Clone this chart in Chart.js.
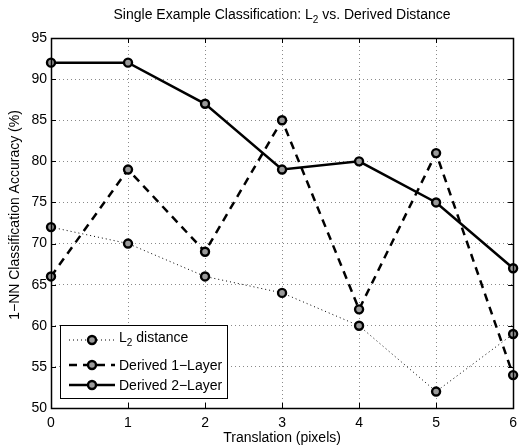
<!DOCTYPE html>
<html lang="en">
<head>
<meta charset="UTF-8">
<title>Single Example Classification</title>
<style>
    body { margin: 0; padding: 0; background: #fff; }
    #wrap { width: 524px; height: 446px; }
</style>
</head>
<body>
<div id="wrap"><canvas id="chart" width="524" height="446"></canvas></div>
<script src="https://cdn.jsdelivr.net/npm/chart.js"></script>
<script>
    var translations = [0, 1, 2, 3, 4, 5, 6];
    var l2Distance = [72, 70, 66, 64, 60, 52, 59];
    var derived1Layer = [66, 79, 69, 85, 62, 81, 54];
    var derived2Layer = [92, 92, 87, 79, 80, 75, 67];

    var FONT = 'Liberation Sans, Arial, Helvetica, sans-serif';

    function pts(ys) {
        return translations.map(function (x, i) { return { x: x, y: ys[i] }; });
    }

    function series(label, ys, dash, width) {
        return {
            label: label,
            data: pts(ys),
            borderColor: '#000',
            borderWidth: width,
            borderDash: dash,
            pointRadius: 4,
            pointBorderWidth: 2.4,
            pointBackgroundColor: '#9a9a9a',
            pointBorderColor: '#000',
            fill: false,
            tension: 0,
            clip: false
        };
    }

    // text with a subscript "2" after the leading part
    function subText(ctx, parts, x, y, size) {
        var big = size + 'px ' + FONT, small = Math.round(size * 0.68) + 'px ' + FONT;
        ctx.font = big; var w1 = ctx.measureText(parts[0]).width;
        ctx.font = small; var w2 = ctx.measureText(parts[1]).width;
        ctx.font = big; var w3 = ctx.measureText(parts[2]).width;
        ctx.font = big; ctx.fillText(parts[0], x, y);
        ctx.font = small; ctx.fillText(parts[1], x + w1, y + size * 0.3);
        ctx.font = big; ctx.fillText(parts[2], x + w1 + w2, y);
        return w1 + w2 + w3;
    }

    // frame, inward ticks, titles, legend
    var decorations = {
        id: 'decorations',
        afterDatasetsDraw: function (chart) {
            var ctx = chart.ctx, a = chart.chartArea;
            var xs = chart.scales.x, ys = chart.scales.y;
            ctx.save();
            ctx.strokeStyle = '#000';
            ctx.lineWidth = 1;
            ctx.beginPath();
            xs.ticks.forEach(function (t) {
                var px = Math.round(xs.getPixelForValue(t.value)) + 0.5;
                ctx.moveTo(px, a.bottom); ctx.lineTo(px, a.bottom - 5);
                ctx.moveTo(px, a.top); ctx.lineTo(px, a.top + 5);
            });
            ys.ticks.forEach(function (t) {
                var py = Math.round(ys.getPixelForValue(t.value)) + 0.5;
                ctx.moveTo(a.left, py); ctx.lineTo(a.left + 5, py);
                ctx.moveTo(a.right, py); ctx.lineTo(a.right - 5, py);
            });
            ctx.stroke();
            ctx.lineWidth = 1.5;
            ctx.strokeRect(Math.round(a.left) + 0.5, Math.round(a.top) + 0.5,
                Math.round(a.right - a.left), Math.round(a.bottom - a.top));

            ctx.fillStyle = '#000';
            ctx.textBaseline = 'alphabetic';

            // chart title
            var parts = ['Single Example Classification: L', '2', ' vs. Derived Distance'];
            ctx.globalAlpha = 0;
            var tw = subText(ctx, parts, 0, -100, 14);
            ctx.globalAlpha = 1;
            subText(ctx, parts, (a.left + a.right) / 2 - tw / 2, 19, 14);

            // axis titles
            ctx.font = '14px ' + FONT;
            ctx.textAlign = 'center';
            ctx.textBaseline = 'middle';
            ctx.fillText('Translation (pixels)', (a.left + a.right) / 2, 438);
            ctx.save();
            ctx.translate(15, 215);
            ctx.rotate(-Math.PI / 2);
            ctx.fillText('1\u2212NN Classification Accuracy (%)', 0, 0);
            ctx.restore();
            ctx.textAlign = 'left';

            // legend
            var lx = 60, ly = 325, lw = 167, lh = 73;
            ctx.fillStyle = '#fff';
            ctx.fillRect(lx, ly, lw, lh);
            ctx.lineWidth = 1;
            ctx.strokeStyle = '#000';
            ctx.strokeRect(lx + 0.5, ly + 0.5, lw, lh);
            var rows = [340, 365, 385];
            chart.data.datasets.forEach(function (ds, i) {
                var y = rows[i];
                ctx.beginPath();
                ctx.setLineDash(ds.borderDash);
                ctx.lineWidth = ds.borderWidth;
                ctx.strokeStyle = '#000';
                ctx.moveTo(69, y); ctx.lineTo(115, y);
                ctx.stroke();
                ctx.setLineDash([]);
                ctx.beginPath();
                ctx.arc(92, y, 4, 0, Math.PI * 2);
                ctx.fillStyle = '#9a9a9a';
                ctx.fill();
                ctx.lineWidth = 2.4;
                ctx.stroke();
                ctx.fillStyle = '#000';
                ctx.textBaseline = 'alphabetic';
                if (i === 0) {
                    subText(ctx, ['L', '2', ' distance'], 119, y + 2, 14);
                } else {
                    ctx.font = '14px ' + FONT;
                    ctx.fillText(ds.label, 119, y + 5);
                }
            });
            ctx.restore();
        }
    };

    new Chart(document.getElementById('chart').getContext('2d'), {
        type: 'line',
        data: {
            datasets: [
                series('L2 distance', l2Distance, [1, 3], 1),
                series('Derived 1\u2212Layer', derived1Layer, [8, 6], 2.5),
                series('Derived 2\u2212Layer', derived2Layer, [], 2.5)
            ]
        },
        options: {
            responsive: false,
            animation: false,
            devicePixelRatio: 1,
            layout: { padding: { top: 38, right: 3, left: 0, bottom: 0 } },
            plugins: { legend: { display: false }, tooltip: { enabled: false } },
            scales: {
                x: {
                    type: 'linear', min: 0, max: 6,
                    ticks: { stepSize: 1, color: '#000', font: { family: FONT, size: 14 }, padding: 7 },
                    grid: { color: '#8a8a8a', lineWidth: 1, drawTicks: false },
                    border: { display: false, dash: [1, 3] },
                    afterFit: function (s) { s.height = 38; }
                },
                y: {
                    min: 50, max: 95,
                    ticks: { stepSize: 5, color: '#000', font: { family: FONT, size: 14 }, padding: 4 },
                    grid: { color: '#8a8a8a', lineWidth: 1, drawTicks: false },
                    border: { display: false, dash: [1, 3] },
                    afterFit: function (s) { s.width = 51; }
                }
            }
        },
        plugins: [decorations]
    });
</script>
</body>
</html>
